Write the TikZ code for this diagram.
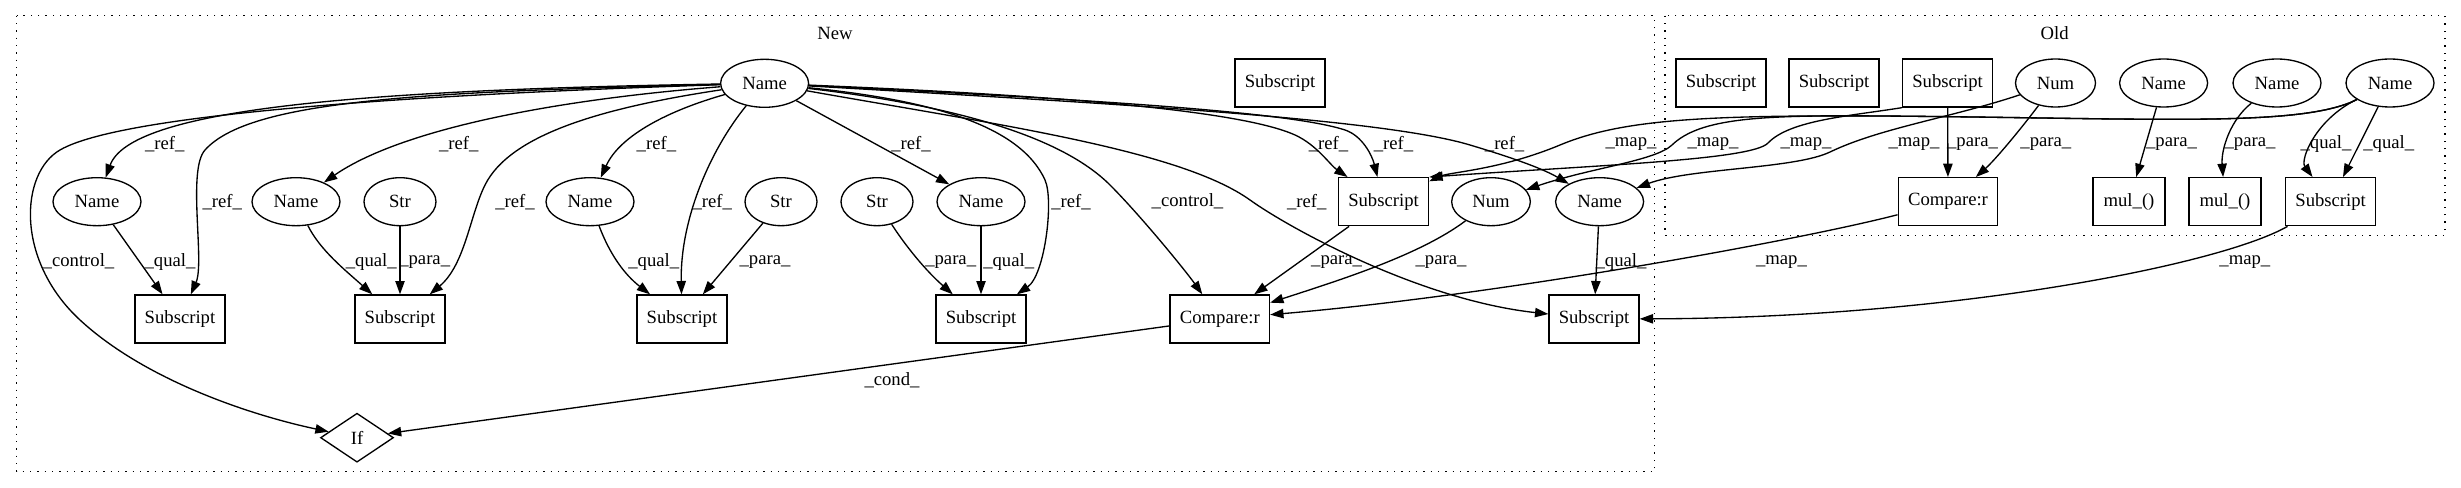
\documentclass[tikz,border=0pt]{standalone}
\usepackage{fontspec}
\setmainfont{Liberation Serif}
\usetikzlibrary{shapes.geometric,arrows.meta}
\tikzset{
  every node/.style={font=\fontsize{14pt}{16pt}\selectfont},
  ell/.style={draw, ellipse, line width=1pt, minimum width=66pt, minimum height=36pt, inner sep=0pt},
  sbox/.style={draw, rectangle, line width=1pt, minimum width=67.5pt, minimum height=36pt, inner sep=0pt},
  dia/.style={draw, diamond, line width=1pt, minimum width=54.75pt, minimum height=36.75pt, inner sep=0pt},
  lbl/.style={inner sep=0pt},
  arr/.style={line width=1pt, -{Triangle[length=10pt,width=7pt]}},
  clus/.style={line width=1pt, dash pattern=on 1pt off 4.5pt}
}
\begin{document}
\begin{tikzpicture}[x=0.75pt,y=-0.75pt]
\fill[white] (0,0) rectangle (2461,488);
\useasboundingbox (0,0) rectangle (2461,488);
% clusters
\draw[clus] (16.7,15.7) rectangle (1654.7,471.7);
\draw[clus] (1665,15.7) rectangle (2444.8,235.3);
\node[lbl] (tnew) at (835,33) {New};
\node[lbl] (told) at (2054.7,33.3) {Old};
% New nodes
\node[ell] (n0) at (764.6,83.3) {Name};
\node[sbox] (nsub) at (1280,83) {Subscript};
\node[ell] (a1) at (97,201.7) {Name};
\node[ell] (a2) at (296,201.7) {Name};
\node[ell, minimum width=54pt] (s1) at (400,201.7) {Str};
\node[ell] (a3) at (590,201.7) {Name};
\node[ell, minimum width=54pt] (s2) at (781,201.7) {Str};
\node[ell, minimum width=54pt] (s3) at (877,201.7) {Str};
\node[ell] (a4) at (981,201.7) {Name};
\node[sbox] (b5) at (1383.5,201.7) {Subscript};
\node[ell, minimum width=59pt] (num) at (1491,201.7) {Num};
\node[ell] (a5) at (1599.6,201.7) {Name};
\node[sbox] (c1) at (180,319) {Subscript};
\node[sbox] (c2) at (400,319) {Subscript};
\node[sbox] (c3) at (682,319) {Subscript};
\node[sbox] (c4) at (981,319) {Subscript};
\node[sbox, minimum width=74.5pt] (cmp) at (1219.8,319) {Compare:r};
\node[sbox] (c6) at (1594,319) {Subscript};
\node[dia] (iff) at (357,437.7) {If};
% Old nodes
\node[sbox] (oa) at (1721,83) {Subscript};
\node[sbox] (ob) at (1834,83) {Subscript};
\node[sbox] (oc) at (1947.6,83) {Subscript};
\node[ell, minimum width=60pt] (onum) at (2055.5,83) {Num};
\node[ell] (on1) at (2163.6,83) {Name};
\node[ell] (on2) at (2277,83) {Name};
\node[ell] (on3) at (2390,83) {Name};
\node[sbox, minimum width=74.7pt] (ocmp) at (1948,201.7) {Compare:r};
\node[sbox, minimum width=54pt] (om1) at (2129,201.7) {mul\_()};
\node[sbox, minimum width=54pt] (om2) at (2225,201.7) {mul\_()};
\node[sbox] (od) at (2330.6,201.7) {Subscript};
% edges from top Name
\draw[arr] (n0) .. controls (350,90) and (130,110) .. (a1);
\draw[arr] (n0) .. controls (400,95) and (120,115) .. (60,150) .. controls (20,173) and (15,260) .. (80,320) .. controls (145,380) and (250,415) .. (iff);
\draw[arr] (n0) .. controls (420,92) and (250,100) .. (205,150) .. controls (187,170) and (205,262) .. (c1);
\draw[arr] (n0) .. controls (550,100) and (400,130) .. (a2);
\draw[arr] (n0) .. controls (600,108) and (510,135) .. (485,185) .. controls (470,215) and (465,265) .. (c2);
\draw[arr] (n0) .. controls (670,110) and (620,135) .. (a3);
\draw[arr] (n0) .. controls (710,150) and (680,220) .. (c3);
\draw[arr] (n0) -- (a4);
\draw[arr] (n0) .. controls (930,100) and (1020,125) .. (1045,180) .. controls (1054,200) and (1045,275) .. (c4);
\draw[arr] (n0) .. controls (950,105) and (1060,135) .. (1110,185) .. controls (1140,215) and (1185,270) .. (cmp);
\draw[arr] (n0) .. controls (1000,125) and (1180,150) .. (1250,200) .. controls (1290,228.6) and (1420,300) .. (c6);
\draw[arr] (n0) .. controls (1050,95) and (1240,110) .. (1295,135) .. controls (1317,145) and (1330,165) .. (b5);
\draw[arr] (n0) .. controls (1100,100) and (1290,112) .. (1345,130) .. controls (1362,135.6) and (1372,155) .. (b5);
\draw[arr] (n0) .. controls (1100,103) and (1380,118) .. (1470,145) .. controls (1520,160) and (1545,170) .. (a5);
% other new edges
\draw[arr] (a1) -- (c1);
\draw[arr] (a2) .. controls (320,250) and (345,270) .. (c2);
\draw[arr] (s1) -- (c2);
\draw[arr] (a3) .. controls (610,255) and (625,275) .. (c3);
\draw[arr] (s2) -- (c3);
\draw[arr] (s3) .. controls (905,245) and (925,270) .. (c4);
\draw[arr] (a4) -- (c4);
\draw[arr] (b5) -- (cmp);
\draw[arr] (num) .. controls (1420,255) and (1340,280) .. (cmp);
\draw[arr] (a5) -- (c6);
\draw[arr] (cmp) -- (iff);
% old edges
\draw[arr] (oc) -- (ocmp);
\draw[arr] (onum) .. controls (2020,130) and (1995,160) .. (ocmp);
\draw[arr] (on1) -- (om1);
\draw[arr] (on2) .. controls (2230,120) and (2221,150) .. (om2);
\draw[arr] (on3) .. controls (2315,120) and (2300,160) .. (od);
\draw[arr] (on3) -- (od);
% map edges
\draw[arr] (on3) .. controls (2300,128) and (2150,118) .. (1880,116) .. controls (1700,115) and (1620,120) .. (1560,145) .. controls (1500,170) and (1450,172) .. (b5);
\draw[arr] (on3) .. controls (2300,128) and (2150,118) .. (1880,116) .. controls (1760,115) and (1700,118) .. (1672,145) .. controls (1655,161) and (1590,168) .. (num);
\draw[arr] (oc.south west) .. controls (1850,116) and (1790,120) .. (1768,143) .. controls (1752,160) and (1600,165) .. (b5.north east);
\draw[arr] (onum) .. controls (1950,118) and (1880,128) .. (1830,152) .. controls (1795,169) and (1690,168) .. (a5);
\draw[arr] (ocmp) .. controls (1800,240) and (1500,295) .. (cmp);
\draw[arr] (od) .. controls (2220,265) and (1950,318) .. (c6);
% labels row 144
\node[lbl] (l01) at (164.7,144) {\_ref\_};
\node[lbl] (l02) at (458.7,144) {\_ref\_};
\node[lbl] (l03) at (656.4,144) {\_ref\_};
\node[lbl] (l04) at (911,144) {\_ref\_};
\node[lbl] (l05) at (1328.5,144) {\_ref\_};
\node[lbl] (l06) at (1393.5,144) {\_ref\_};
\node[lbl] (l07) at (1504.6,144) {\_ref\_};
\node[lbl] (l08) at (1631,144) {\_map\_};
\node[lbl] (l09) at (1713,144) {\_map\_};
\node[lbl] (l10) at (1806,144) {\_map\_};
\node[lbl] (l11) at (1914,144) {\_map\_};
\node[lbl] (l12) at (1972.5,144) {\_para\_};
\node[lbl] (l13) at (2045.8,144) {\_para\_};
\node[lbl] (l14) at (2171.5,144) {\_para\_};
\node[lbl] (l15) at (2250,144) {\_para\_};
\node[lbl] (l16) at (2326,144) {\_qual\_};
\node[lbl] (l17) at (2388.7,144) {\_qual\_};
% row 201.7
\node[lbl] (l18) at (222.3,201.7) {\_ref\_};
\node[lbl] (l19) at (515,201.7) {\_ref\_};
\node[lbl] (l20) at (712.3,201.7) {\_ref\_};
\node[lbl] (l21) at (1071,201.7) {\_ref\_};
\node[lbl] (l22) at (1187.5,201.7) {\_control\_};
\node[lbl] (l23) at (1306.8,201.7) {\_ref\_};
% row 261.7
\node[lbl] (l24) at (78.5,261.7) {\_control\_};
\node[lbl] (l25) at (170,261.7) {\_qual\_};
\node[lbl] (l26) at (371.3,261.7) {\_qual\_};
\node[lbl] (l27) at (424.7,261.7) {\_para\_};
\node[lbl] (l28) at (653.8,261.7) {\_qual\_};
\node[lbl] (l29) at (765,261.7) {\_para\_};
\node[lbl] (l30) at (950.7,261.7) {\_para\_};
\node[lbl] (l31) at (1008.7,261.7) {\_qual\_};
\node[lbl] (l32) at (1336.6,261.7) {\_para\_};
\node[lbl] (l33) at (1441,261.7) {\_para\_};
\node[lbl] (l34) at (1621,261.7) {\_qual\_};
\node[lbl] (l35) at (1781.4,261.7) {\_map\_};
\node[lbl] (l36) at (2244.8,261.7) {\_map\_};
\node[lbl] (l37) at (892,380) {\_cond\_};
\end{tikzpicture}
\end{document}
